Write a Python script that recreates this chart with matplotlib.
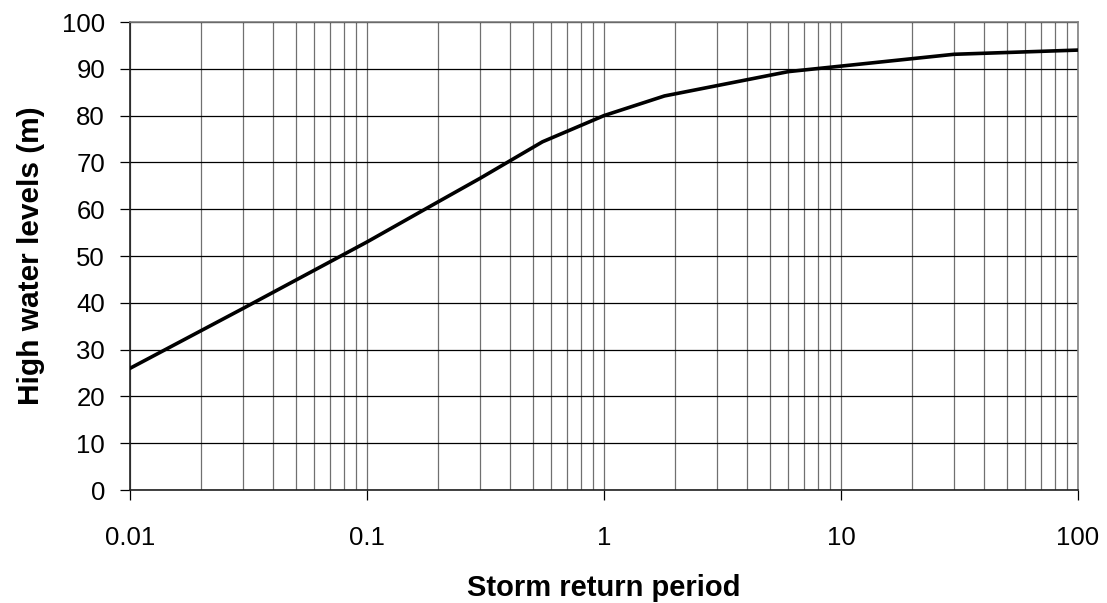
import matplotlib.pyplot as plt
from matplotlib.ticker import LogLocator, FixedLocator, NullFormatter, FixedFormatter

plt.rcParams['font.family'] = ['Liberation Sans', 'DejaVu Sans']

# values
return_period = [0.01, 0.03, 0.1, 0.2, 0.3, 0.55, 1, 1.8, 6, 30, 100]
water_level = [26, 38.8, 53, 61.6, 66.6, 74.4, 80, 84.2, 89.4, 93.1, 94]
x_ticks = [0.01, 0.1, 1, 10, 100]
x_tick_labels = ['0.01', '0.1', '1', '10', '100']
y_ticks = list(range(0, 101, 10))

fig = plt.figure(figsize=(11.07, 6.03), dpi=100)
ax = fig.add_axes([130 / 1107, 1 - 490 / 603, (1078 - 130) / 1107, (490 - 22) / 603])

ax.plot(return_period, water_level, color='black', linewidth=2.6, solid_joinstyle='round', zorder=3)

ax.set_xscale('log')
ax.set_xlim(0.01, 100)
ax.set_ylim(0, 100)

ax.xaxis.set_major_locator(FixedLocator(x_ticks))
ax.xaxis.set_major_formatter(FixedFormatter(x_tick_labels))
ax.xaxis.set_minor_locator(LogLocator(base=10, subs=range(2, 10)))
ax.xaxis.set_minor_formatter(NullFormatter())
ax.set_yticks(y_ticks)

ax.grid(True, which='major', axis='y', color='black', linewidth=0.9)
ax.grid(True, which='both', axis='x', color='#707070', linewidth=0.9)

ax.tick_params(axis='x', which='major', direction='out', length=7, width=0.9, pad=19, labelsize=18.5)
ax.tick_params(axis='x', which='minor', length=0)
ax.tick_params(axis='y', direction='out', length=7, width=0.9, pad=11, labelsize=18.5)

for side in ['top', 'right']:
    ax.spines[side].set_color('#808080')
    ax.spines[side].set_linewidth(1.2)
for side in ['left', 'bottom']:
    ax.spines[side].set_color('#202020')
    ax.spines[side].set_linewidth(1.2)

ax.set_xlabel('Storm return period', fontsize=21, fontweight='bold', labelpad=17)
ax.set_ylabel('High water levels (m)', fontsize=21.5, fontweight='bold', labelpad=12)

fig.savefig('out.png', dpi=100, facecolor='white')
